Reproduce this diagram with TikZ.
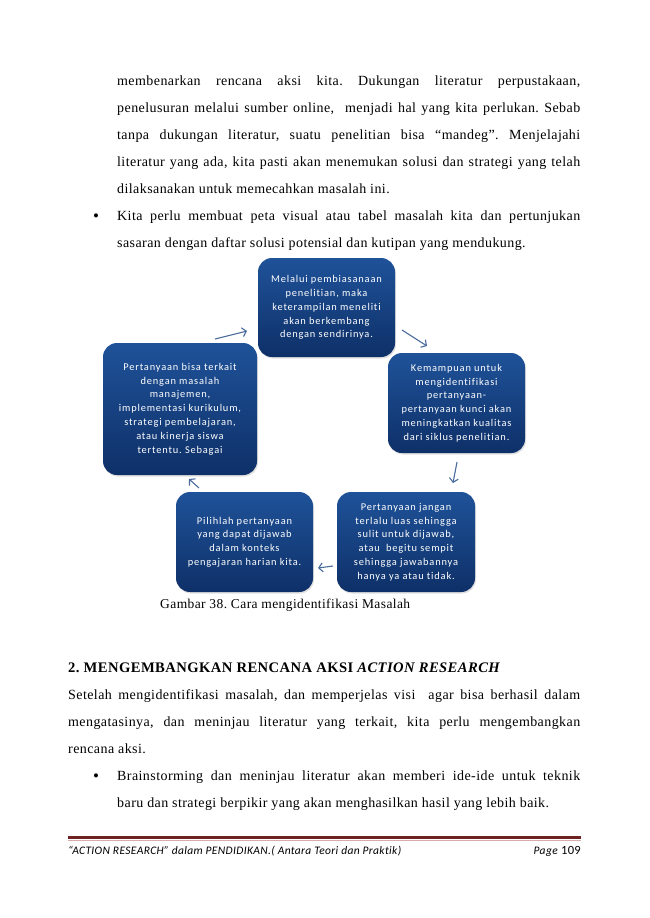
\documentclass[tikz,border=0pt]{standalone}
\usepackage{fontspec}
\setmainfont[LetterSpace=3]{Liberation Serif}
\newfontfamily\boxfont[LetterSpace=8,Ligatures=NoCommon]{Carlito}
\newfontfamily\footfont[LetterSpace=3,Ligatures=NoCommon]{Carlito}
\usetikzlibrary{arrows.meta,shadows}
\definecolor{boxtop}{HTML}{1F5299}
\definecolor{boxbot}{HTML}{0E3068}
\definecolor{arrowblue}{HTML}{4A6A9C}
\definecolor{footred}{HTML}{6E2222}
\definecolor{footpink}{HTML}{D8ACAC}
\newcommand{\jline}[2]{\makebox[#1pt][s]{#2}}
\frenchspacing

\begin{document}
\begin{tikzpicture}[x=1pt,y=-1pt,
  body/.style={anchor=base west,inner sep=0,font=\fontsize{14}{16}\selectfont},
  dot/.style={anchor=base west,inner sep=0,font=\fontsize{17}{16}\selectfont},
  box/.style={rectangle,rounded corners=14pt,top color=boxtop,bottom color=boxbot,
    text=white,align=center,font=\boxfont\fontsize{10.4}{13.8}\selectfont,inner sep=2pt,
    drop shadow={opacity=0.25,shadow xshift=1pt,shadow yshift=-1.5pt}},
  cyc/.style={draw=arrowblue,line width=1.1pt,-{Straight Barb[length=4pt,width=9pt]}}]
\useasboundingbox (0,0) rectangle (650,918);

% paragraph above the figure
\node[body] (t1) at (117,85) {\jline{463}{membenarkan rencana aksi kita. Dukungan literatur perpustakaan,}};
\node[body] (t2) at (117,112) {\jline{463}{penelusuran melalui sumber online,\ \ menjadi hal yang kita perlukan. Sebab}};
\node[body] (t3) at (117,139) {\jline{463}{tanpa dukungan literatur, suatu penelitian bisa “mandeg”. Menjelajahi}};
\node[body] (t4) at (117,166) {\jline{463}{literatur yang ada, kita pasti akan menemukan solusi dan strategi yang telah}};
\node[body] (t5) at (117,193) {dilaksanakan untuk memecahkan masalah ini.};
\node[dot] (b1) at (93,221) {•};
\node[body] (t6) at (117,220) {\jline{463}{Kita perlu membuat peta visual atau tabel masalah kita dan pertunjukan}};
\node[body] (t7) at (117,247) {sasaran dengan daftar solusi potensial dan kutipan yang mendukung.};

% the cycle
\node[box,minimum width=137pt,minimum height=99pt] (pembiasaan) at (326.5,307.5)
  {Melalui pembiasanaan\\penelitian, maka\\keterampilan meneliti\\akan berkembang\\dengan sendirinya.};
\node[box,minimum width=137pt,minimum height=100pt] (kemampuan) at (456.5,403)
  {Kemampuan untuk\\mengidentifikasi\\pertanyaan-\\pertanyaan kunci akan\\meningkatkan kualitas\\dari siklus penelitian.};
\node[box,minimum width=138pt,minimum height=100pt] (luas) at (406,542)
  {Pertanyaan jangan\\terlalu luas sehingga\\sulit untuk dijawab,\\atau\ \ begitu sempit\\sehingga jawabannya\\hanya ya atau tidak.};
\node[box,minimum width=137pt,minimum height=100pt] (pilih) at (244.5,542)
  {Pilihlah pertanyaan\\yang dapat dijawab\\dalam konteks\\pengajaran harian kita.};
\node[box,minimum width=154pt,minimum height=132pt] (terkait) at (180,409)
  {Pertanyaan bisa terkait\\dengan masalah\\manajemen,\\implementasi kurikulum,\\strategi pembelajaran,\\atau kinerja siswa\\tertentu. Sebagai};

\coordinate (a1s) at (215,339);  \coordinate (a1e) at (247,331);
\coordinate (a2s) at (402,330);  \coordinate (a2e) at (427,346);
\coordinate (a3s) at (457,462);  \coordinate (a3e) at (453,483);
\coordinate (a4s) at (333,566);  \coordinate (a4e) at (318,568);
\coordinate (a5s) at (199,488);  \coordinate (a5e) at (189,479);
\draw[cyc] (a1s) -- (a1e);
\draw[cyc] (a2s) -- (a2e);
\draw[cyc] (a3s) -- (a3e);
\draw[cyc] (a4s) -- (a4e);
\draw[cyc] (a5s) -- (a5e);

\node[body,font=\fontsize{13.5}{16}\selectfont] (caption) at (160,608) {Gambar 38. Cara mengidentifikasi Masalah};

% section 2
\node[body,font=\fontsize{14.6}{16}\selectfont\bfseries] (head) at (68,672)
  {2. MENGEMBANGKAN RENCANA AKSI \textit{ACTION RESEARCH}};
\node[body] (p1) at (68,699) {\jline{512}{Setelah mengidentifikasi masalah, dan memperjelas visi\ \ agar bisa berhasil dalam}};
\node[body] (p2) at (68,726) {\jline{512}{mengatasinya, dan meninjau literatur yang terkait, kita perlu mengembangkan}};
\node[body] (p3) at (68,753) {rencana aksi.};
\node[dot] (b2) at (93,781) {•};
\node[body] (p4) at (117,780) {\jline{463}{Brainstorming dan meninjau literatur akan memberi ide-ide untuk teknik}};
\node[body] (p5) at (117,807) {baru dan strategi berpikir yang akan menghasilkan hasil yang lebih baik.};

% footer
\coordinate (fl) at (68,837.5);  \coordinate (fr) at (581,837.5);
\draw[footred,line width=3.5pt] (fl) -- (fr);
\draw[footpink,line width=1pt] ([yshift=-3pt]fl) -- ([yshift=-3pt]fr);
\node[anchor=base west,inner sep=0,font=\footfont\fontsize{11.5}{12}\selectfont\itshape] (foot) at (68,854)
  {“ACTION RESEARCH” dalam PENDIDIKAN.( Antara Teori dan Praktik)};
\node[anchor=base east,inner sep=0,font=\footfont\fontsize{11.5}{12}\selectfont] (page) at (581,854)
  {\textit{Page} {\fontsize{12.5}{12}\selectfont 109}};
\end{tikzpicture}
\end{document}
